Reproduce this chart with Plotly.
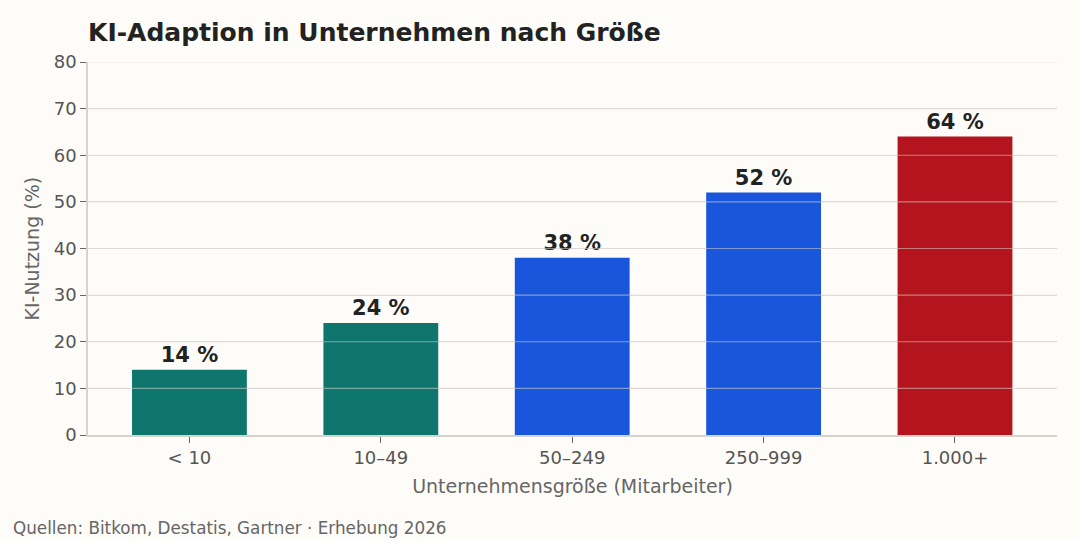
import plotly.graph_objects as go

# data
groessen = ["< 10", "10–49", "50–249", "250–999", "1.000+"]
nutzung = [14, 24, 38, 52, 64]
farben = ["#0f766e", "#0f766e", "#1a56db", "#1a56db", "#b3141e"]
y_max = 80
y_step = 10

fig = go.Figure()
fig.add_trace(go.Bar(
    x=groessen, y=nutzung,
    marker=dict(color=farben, line=dict(width=0)),
    text=[f"{v} %" for v in nutzung],
    textposition="outside",
    textfont=dict(family="DejaVu Sans", size=21, color="#222222", weight="bold"),
    cliponaxis=False,
    hoverinfo="skip",
))

# grid lines drawn over the bars as in the reference
for v in range(y_step, y_max + 1, y_step):
    fig.add_shape(type="line", xref="paper", x0=0, x1=1, yref="y", y0=v, y1=v,
                  line=dict(color="rgba(215,212,205,0.55)", width=1.2), layer="above")

fig.update_layout(
    width=1080, height=540,
    paper_bgcolor="#fdfcf8", plot_bgcolor="#fdfcf8",
    font=dict(family="DejaVu Sans", color="#555555"),
    margin=dict(l=88, r=23, t=62, b=105),
    bargap=0.4,
    showlegend=False,
    title=dict(text="<b>KI-Adaption in Unternehmen nach Größe</b>",
               x=0.0815, xanchor="left", y=0.94, yanchor="middle",
               font=dict(size=25, color="#222222")),
)
fig.update_xaxes(
    title=dict(text="Unternehmensgröße (Mitarbeiter)", font=dict(size=19, color="#666666"), standoff=12),
    range=[-0.53, 4.533],
    tickfont=dict(size=18, color="#555555"),
    showline=True, linecolor="#d6d3cd", linewidth=1.5,
    ticks="outside", tickcolor="#666666", ticklen=6,
)
fig.update_yaxes(
    range=[0, y_max], dtick=y_step,
    tickfont=dict(size=18, color="#555555"),
    showgrid=True, gridcolor="#e4e1dc", gridwidth=1,
    showline=True, linecolor="#d6d3cd", linewidth=1.5,
    ticks="outside", tickcolor="#666666", ticklen=6,
    zeroline=False,
)
fig.add_annotation(
    text="KI-Nutzung (%)", textangle=-90,
    xref="paper", yref="paper", x=-0.0588, y=0.5,
    xanchor="center", yanchor="middle", showarrow=False,
    font=dict(size=19, color="#666666"),
)
fig.add_annotation(
    text="Quellen: Bitkom, Destatis, Gartner · Erhebung 2026",
    xref="paper", yref="paper", x=-0.0795, y=-0.248,
    xanchor="left", yanchor="middle", showarrow=False,
    font=dict(size=16.8, color="#666666"),
)

fig.write_html("out.html", config={"displayModeBar": False},
               post_script="document.body.style.margin='0';")
